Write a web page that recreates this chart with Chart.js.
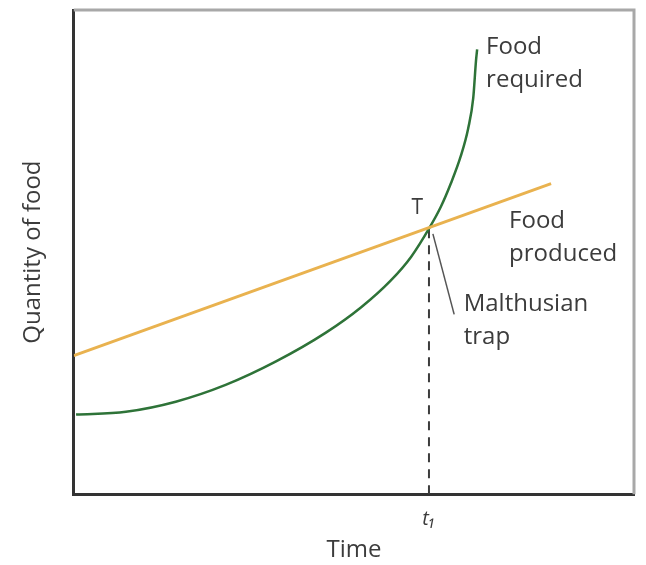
<!DOCTYPE html>
<html>
<head>
<meta charset="utf-8">
<script src="https://cdn.jsdelivr.net/npm/chart.js@4.4.1/dist/chart.umd.min.js"></script>
<style>
  html, body { margin: 0; padding: 0; background: #fff; }
  #wrap { width: 646px; height: 565px; }
</style>
</head>
<body>
<div id="wrap"><canvas id="myChart"></canvas></div>
<script>
// values (time on x, quantity on y)
var requiredX = [0.04, 0.93, 1.82, 2.71, 3.61, 4.50, 5.13, 5.66, 6.02, 6.34, 6.55, 6.73, 6.91, 7.04, 7.13, 7.18, 7.20];
var requiredY = [1.66, 1.72, 1.93, 2.28, 2.77, 3.37, 3.90, 4.46, 4.95, 5.54, 5.99, 6.48, 7.06, 7.63, 8.26, 9.05, 9.28];
var producedX = [0, 8.52];
var producedY = [2.89, 6.48];
var trapX = 6.34;
var trapY = 5.56;
var pointerX = [6.41, 6.79];
var pointerY = [5.43, 3.75];
var tickLabels = ['t\u2081'];

function pts(xs, ys) {
  return xs.map(function (x, i) { return { x: x, y: ys[i] }; });
}

var ink = '#3c3c3c';
var font = '"Open Sans", "Noto Sans", sans-serif';

// text notes placed in data coordinates
var notes = [
  { x: 7.36, y: 9.32, lines: ['Food', 'required'], align: 'left', size: 24 },
  { x: 7.77, y: 5.70, lines: ['Food', 'produced'], align: 'left', size: 24 },
  { x: 6.96, y: 3.96, lines: ['Malthusian', 'trap'], align: 'left', size: 24 },
  { x: 6.13, y: 5.97, lines: ['T'], align: 'center', size: 21 }
];

var framePlugin = {
  id: 'frame',
  beforeDatasetsDraw: function (chart) {
    var a = chart.chartArea, c = chart.ctx;
    c.save();
    c.strokeStyle = '#a8a8a8';
    c.lineWidth = 3;
    c.beginPath();
    c.moveTo(a.left, a.top);
    c.lineTo(a.right, a.top);
    c.lineTo(a.right, a.bottom);
    c.stroke();
    c.restore();
  },
  afterDraw: function (chart) {
    var c = chart.ctx, xs = chart.scales.x, ys = chart.scales.y;
    c.save();
    c.fillStyle = ink;
    c.textBaseline = 'middle';
    notes.forEach(function (n) {
      var px = xs.getPixelForValue(n.x), py = ys.getPixelForValue(n.y);
      c.font = n.size + 'px ' + font;
      c.textAlign = n.align;
      n.lines.forEach(function (t, i) {
        c.fillText(t, px, py + i * 33);
      });
    });
    c.restore();
  }
};

var ctx = document.getElementById('myChart');
var chart = new Chart(ctx, {
  type: 'line',
  data: {
    datasets: [
      {
        label: 'Food produced',
        data: pts(producedX, producedY),
        borderColor: '#e9b24f',
        borderWidth: 3,
        pointRadius: 0
      },
      {
        label: 'Food required',
        data: pts(requiredX, requiredY),
        borderColor: '#2e7338',
        borderWidth: 2.5,
        pointRadius: 0,
        cubicInterpolationMode: 'monotone'
      },
      {
        label: 'drop',
        data: pts([trapX, trapX], [0, trapY]),
        borderColor: ink,
        borderWidth: 2,
        borderDash: [9, 7],
        pointRadius: 0
      },
      {
        label: 'pointer',
        data: pts(pointerX, pointerY),
        borderColor: '#555',
        borderWidth: 1.5,
        pointRadius: 0
      }
    ]
  },
  options: {
    responsive: true,
    maintainAspectRatio: false,
    animation: false,
    layout: { padding: { left: 12, right: 12, top: 10, bottom: 0 } },
    plugins: { legend: { display: false }, tooltip: { enabled: false } },
    scales: {
      x: {
        type: 'linear',
        min: 0,
        max: 10,
        grid: { display: false },
        border: { color: '#333', width: 3 },
        afterBuildTicks: function (axis) {
          axis.ticks = [{ value: trapX }];
        },
        ticks: {
          color: ink,
          font: { family: font, size: 20, style: 'italic' },
          padding: 5,
          callback: function () { return tickLabels[0]; }
        },
        title: {
          display: true,
          text: 'Time',
          color: ink,
          font: { family: font, size: 24 },
          padding: { top: 0, bottom: 0 }
        }
      },
      y: {
        type: 'linear',
        min: 0,
        max: 10.1,
        grid: { display: false },
        border: { color: '#333', width: 3 },
        ticks: { display: false },
        title: {
          display: true,
          text: 'Quantity of food',
          color: ink,
          font: { family: font, size: 24 },
          padding: { top: 7, bottom: 18 }
        }
      }
    }
  },
  plugins: [framePlugin]
});
</script>
</body>
</html>
